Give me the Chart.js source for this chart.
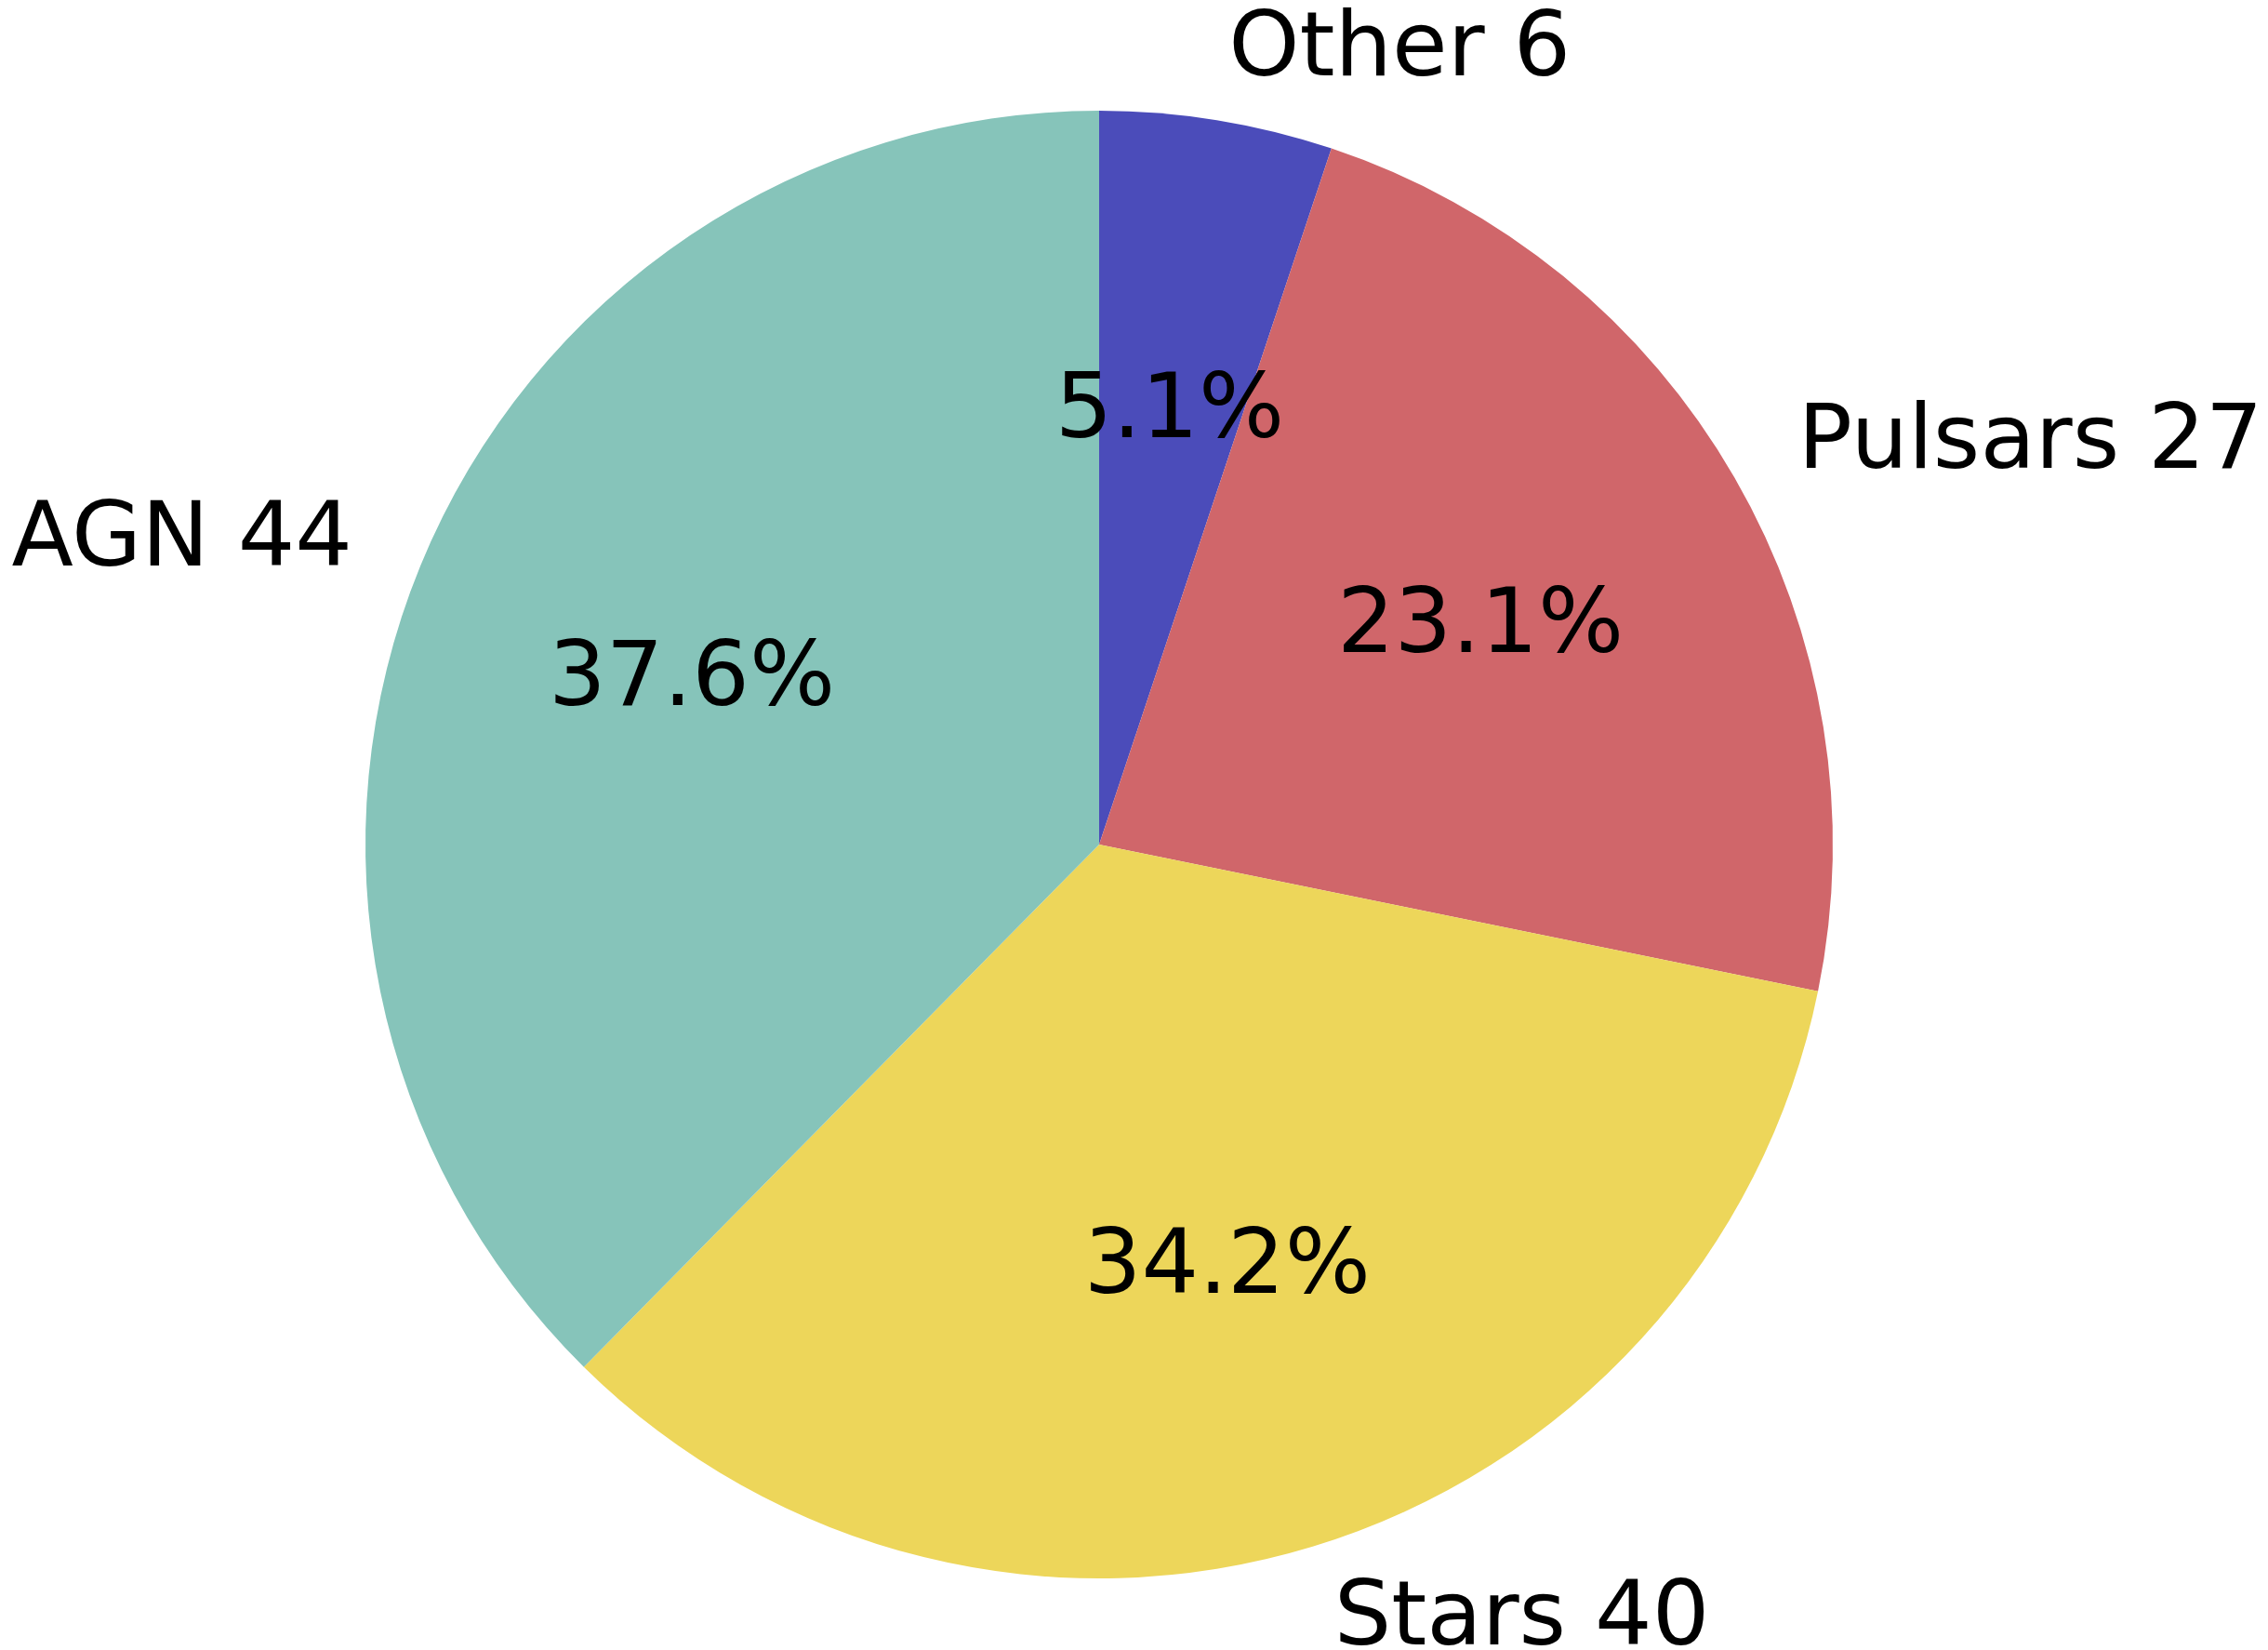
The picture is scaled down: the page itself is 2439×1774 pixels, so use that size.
<!DOCTYPE html>
<html>
<head>
<meta charset="utf-8">
<title>Source classes</title>
<script src="https://cdn.jsdelivr.net/npm/chart.js@4"></script>
<style>
  html, body { margin: 0; padding: 0; background: #ffffff; }
  #wrap { width: 2439px; height: 1774px; }
</style>
</head>
<body>
<div id="wrap"><canvas id="pieChart" width="2439" height="1774"></canvas></div>
<script>
// Source counts per class (clockwise from the top)
const categories = ['Other', 'Pulsars', 'Stars', 'AGN'];
const counts = [6, 27, 40, 44];
const sliceColors = ['#4b4cba', '#d0666a', '#edd65a', '#86c4ba'];

const FONT = '97px "DejaVu Sans"';

// Draw "name count" outside each wedge and the percentage inside it
const pieLabels = {
  id: 'pieLabels',
  afterDatasetsDraw(chart) {
    const ctx = chart.ctx;
    const meta = chart.getDatasetMeta(0);
    const total = counts.reduce((sum, v) => sum + v, 0);

    ctx.save();
    ctx.font = FONT;
    ctx.fillStyle = '#000000';
    ctx.textBaseline = 'middle';

    meta.data.forEach((arc, i) => {
      const mid = (arc.startAngle + arc.endAngle) / 2;
      const r = arc.outerRadius;

      // outer label at 1.1 r
      const lx = arc.x + Math.cos(mid) * r * 1.1;
      const ly = arc.y + Math.sin(mid) * r * 1.1 + 4;
      ctx.textAlign = lx > arc.x ? 'left' : 'right';
      ctx.fillText(categories[i] + ' ' + counts[i], lx, ly);

      // percentage at 0.6 r
      const px = arc.x + Math.cos(mid) * r * 0.6;
      const py = arc.y + Math.sin(mid) * r * 0.6 + 4;
      ctx.textAlign = 'center';
      ctx.fillText((counts[i] / total * 100).toFixed(1) + '%', px, py);
    });

    ctx.restore();
  }
};

new Chart(document.getElementById('pieChart'), {
  type: 'pie',
  data: {
    labels: categories,
    datasets: [{
      data: counts,
      backgroundColor: sliceColors,
      borderWidth: 0
    }]
  },
  options: {
    responsive: false,
    animation: false,
    layout: {
      padding: { top: 119, bottom: 77, left: 393, right: 468 }
    },
    plugins: {
      legend: { display: false },
      tooltip: { enabled: false }
    }
  },
  plugins: [pieLabels]
});
</script>
</body>
</html>
